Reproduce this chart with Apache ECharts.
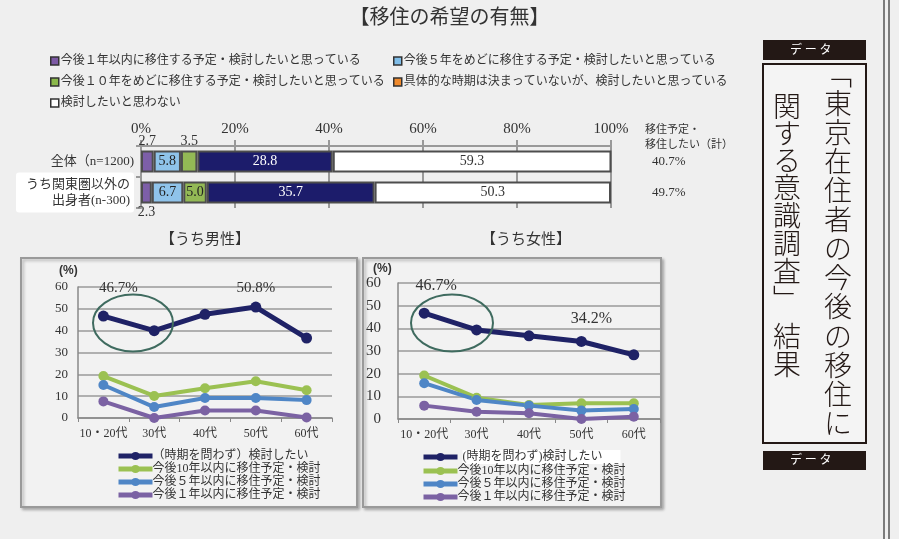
<!DOCTYPE html>
<html><head><meta charset="utf-8">
<script src="https://cdn.jsdelivr.net/npm/echarts@6/dist/echarts.min.js"></script>
<style>html,body{margin:0;padding:0;background:#efefef}#c{width:899px;height:539px}</style>
</head><body><div id="c"></div>
<script>
// ---------- data ----------
const barCats = ['全体（n=1200)', 'うち関東圏以外の\n出身者(n-300)'];
const barNames = [
  '今後１年以内に移住する予定・検討したいと思っている',
  '今後５年をめどに移住する予定・検討したいと思っている',
  '今後１０年をめどに移住する予定・検討したいと思っている',
  '具体的な時期は決まっていないが、検討したいと思っている',
  '検討したいと思わない'
];
const within1y = [2.7, 2.3];
const within5y = [5.8, 6.7];
const within10y = [3.5, 5.0];
const undecided = [28.8, 35.7];
const notConsider = [59.3, 50.3];
const totals = ['40.7%', '49.7%'];
const pctTicks = [0, 20, 40, 60, 80, 100];

const ages = ['10・20代', '30代', '40代', '50代', '60代'];
const lineNamesM = ['（時期を問わず）検討したい', '今後10年以内に移住予定・検討', '今後５年以内に移住予定・検討', '今後１年以内に移住予定・検討'];
const lineNamesF = ['(時期を問わず)検討したい', '今後10年以内に移住予定・検討', '今後５年以内に移住予定・検討', '今後１年以内に移住予定・検討'];
const maleAny = [46.7, 40.0, 47.5, 50.8, 36.6];
const male10 = [19.2, 10.1, 13.6, 16.8, 12.7];
const male5 = [15.1, 5.0, 9.2, 9.2, 8.2];
const male1 = [7.6, 0.0, 3.4, 3.4, 0.2];
const femaleAny = [46.7, 39.3, 36.7, 34.2, 28.3];
const female10 = [19.2, 9.4, 6.2, 6.9, 6.9];
const female5 = [15.8, 8.4, 5.9, 3.7, 4.4];
const female1 = [5.9, 3.2, 2.5, 0.0, 1.0];

// ---------- styles ----------
const FONT = "'Liberation Serif','Noto Sans CJK JP',serif";
const barColors = ['#7d5fa8', '#8fc3ea', '#93b955', '#1c1c6b', '#ffffff'];
const legendColors = ['#7d5aa5', '#7fbde8', '#8ab84a', '#f08a2c', '#ffffff'];
const lineColors = ['#1f2266', '#9bc152', '#4f86c6', '#7b62a3'];

const chart = echarts.init(document.getElementById('c'), null, {renderer: 'canvas'});

const barData = [within1y, within5y, within10y, undecided, notConsider];
const labelColor = ['#333', '#222', '#222', '#fff', '#333'];
function barSeries(i) {
  return {
    type: 'bar', name: barNames[i], stack: 'all', xAxisIndex: 0, yAxisIndex: 0,
    barWidth: 22,
    itemStyle: {color: barColors[i], borderColor: '#4d4d4d', borderWidth: 2},
    label: {show: true, position: 'inside', color: labelColor[i], fontFamily: FONT, fontSize: 14,
      formatter: p => Number(p.value).toFixed(1)},
    data: barData[i].map((v, k) => {
      const d = {value: v};
      if (i === 0) d.label = {position: k === 0 ? 'top' : 'bottom', distance: 2, color: '#333'};
      if (i === 2 && k === 0) d.label = {position: 'top', distance: 2, color: '#333'};
      return d;
    })
  };
}

const lineData = [[maleAny, male10, male5, male1], [femaleAny, female10, female5, female1]];
function lineSeries(g, i) {
  const names = g === 0 ? lineNamesM : lineNamesF;
  const data = lineData[g][i].map(v => ({value: v}));
  if (i === 0) {
    if (g === 0) {
      data[0].label = {show: true, position: 'top', distance: 15, offset: [15, 0], formatter: '{c}%'};
      data[3].label = {show: true, position: 'top', distance: 6, formatter: '{c}%'};
    } else {
      data[0].label = {show: true, position: 'top', distance: 14, offset: [12, 0], fontSize: 16, formatter: '{c}%'};
      data[3].label = {show: true, position: 'top', distance: 9, offset: [10, 0], fontSize: 16, formatter: '{c}%'};
    }
  }
  return {
    type: 'line', name: names[i], xAxisIndex: g + 1, yAxisIndex: g + 2,
    symbol: 'circle', symbolSize: i === 0 ? 11 : 10,
    lineStyle: {color: lineColors[i], width: i === 0 ? 5 : 4},
    itemStyle: {color: lineColors[i]},
    label: {color: '#333', fontFamily: FONT, fontSize: 15},
    emphasis: {disabled: true},
    data: data
  };
}

// vertical title characters
const colR = '﹁東京在住者の今後の移住に'.split('');
const colL = [['関',107],['す',134],['る',161],['意',188],['識',216],['調',244],['査',272],['﹂',300],['結',337],['果',365]];
const vText = [];
colR.forEach((ch, k) => vText.push({type: 'text', left: 824, top: 60 + k * 29.1,
  style: {text: ch, font: "300 28px 'Noto Sans CJK JP'", fill: '#231815'}, z: 10}));
colL.forEach(([ch, y]) => vText.push({type: 'text', left: 773, top: y - 15,
  style: {text: ch, font: "300 28px 'Noto Sans CJK JP'", fill: '#231815'}, z: 10}));

const option = {
  backgroundColor: '#efefef',
  animation: false,
  textStyle: {fontFamily: FONT},
  legend: [
    {orient: 'vertical', left: 45, top: 50, itemWidth: 8, itemHeight: 8, itemGap: 9,
     selectedMode: false, icon: 'rect',
     textStyle: {fontSize: 12, color: '#333', fontFamily: FONT, padding: [0, 0, 0, -3]},
     data: [0, 2, 4].map(i => ({name: barNames[i], itemStyle: {color: legendColors[i], borderColor: '#333', borderWidth: 1.5}}))},
    {orient: 'vertical', left: 388, top: 50, itemWidth: 8, itemHeight: 8, itemGap: 9,
     selectedMode: false, icon: 'rect',
     textStyle: {fontSize: 12, color: '#333', fontFamily: FONT, padding: [0, 0, 0, -3]},
     data: [1, 3].map(i => ({name: barNames[i], itemStyle: {color: legendColors[i], borderColor: '#333', borderWidth: 1.5}}))},
    {orient: 'vertical', left: 111, top: 445, itemWidth: 34, itemHeight: 10, itemGap: 1,
     selectedMode: false, lineStyle: {width: 5},
     textStyle: {fontSize: 12, color: '#333', fontFamily: FONT, padding: [0, 0, 0, -5]},
     data: lineNamesM},
    {orient: 'vertical', left: 416, top: 445, itemWidth: 34, itemHeight: 10, itemGap: 1,
     selectedMode: false, lineStyle: {width: 5},
     textStyle: {fontSize: 12, color: '#333', fontFamily: FONT, padding: [0, 0, 0, -5]},
     data: lineNamesF.map((n, i) => i === 0 ? {name: n, textStyle: {backgroundColor: '#fff', padding: [1, 18, 1, 0]}} : n)}
  ],
  grid: [
    {left: 141, top: 146, width: 470, height: 62},
    {left: 78, top: 287, width: 254, height: 131},
    {left: 398, top: 283, width: 262, height: 136}
  ],
  xAxis: [
    {type: 'value', gridIndex: 0, position: 'top', min: 0, max: 100, interval: 20,
     axisLine: {show: true, lineStyle: {color: '#999', width: 2}},
     axisTick: {show: true, length: 6, lineStyle: {color: '#999', width: 2}},
     splitLine: {show: true, lineStyle: {color: '#999', width: 2}},
     axisLabel: {color: '#333', fontSize: 15, fontFamily: FONT, margin: 9, formatter: v => pctTicks.includes(v) ? v + '%' : ''}},
    {type: 'category', gridIndex: 1, data: ages, boundaryGap: true,
     axisLine: {lineStyle: {color: '#888', width: 1.5}},
     axisTick: {show: true, length: 4, lineStyle: {color: '#888'}},
     axisLabel: {color: '#333', fontSize: 12, fontFamily: FONT, margin: 10, interval: 0}},
    {type: 'category', gridIndex: 2, data: ages, boundaryGap: true,
     axisLine: {lineStyle: {color: '#888', width: 1.5}},
     axisTick: {show: true, length: 4, lineStyle: {color: '#888'}},
     axisLabel: {color: '#333', fontSize: 12, fontFamily: FONT, margin: 10, interval: 0}}
  ],
  yAxis: [
    {type: 'category', gridIndex: 0, inverse: true,
     data: barCats.map((c, k) => k === 1 ? {value: c, textStyle: {backgroundColor: '#fff', padding: [4, 4, 4, 10], lineHeight: 16, borderRadius: 3}} : c),
     axisLine: {show: true, lineStyle: {color: '#999', width: 2}},
     axisTick: {show: true, length: 5, lineStyle: {color: '#999', width: 2}},
     axisLabel: {color: '#333', fontSize: 13, fontFamily: FONT, margin: 7}},
    {type: 'category', gridIndex: 0, inverse: true, position: 'right', data: totals,
     axisLine: {show: false}, axisTick: {show: false},
     axisLabel: {color: '#333', fontSize: 13, fontFamily: FONT, margin: 41, align: 'left'}},
    {type: 'value', gridIndex: 1, min: 0, max: 60, interval: 10,
     axisLine: {show: true, lineStyle: {color: '#888', width: 1.5}},
     splitLine: {lineStyle: {color: '#9a9a9a', width: 1.5}},
     axisLabel: {color: '#333', fontSize: 13, fontFamily: FONT, margin: 10}},
    {type: 'value', gridIndex: 2, min: 0, max: 60, interval: 10,
     axisLine: {show: true, lineStyle: {color: '#888', width: 1.5}},
     splitLine: {lineStyle: {color: '#9a9a9a', width: 1.5}},
     axisLabel: {color: '#333', fontSize: 15, fontFamily: FONT, margin: 17}}
  ],
  series: [0, 1, 2, 3, 4].map(barSeries)
    .concat([0, 1, 2, 3].map(i => lineSeries(0, i)))
    .concat([0, 1, 2, 3].map(i => lineSeries(1, i))),
  graphic: [
    {type: 'rect', shape: {x: 21, y: 258, width: 336, height: 249}, z: -10,
     style: {fill: '#f2f2f2', stroke: '#9a9a9a', lineWidth: 2, shadowBlur: 3, shadowOffsetX: 2, shadowOffsetY: 2, shadowColor: 'rgba(0,0,0,0.25)'}},
    {type: 'rect', shape: {x: 363, y: 258, width: 298, height: 249}, z: -10,
     style: {fill: '#f2f2f2', stroke: '#9a9a9a', lineWidth: 2, shadowBlur: 3, shadowOffsetX: 2, shadowOffsetY: 2, shadowColor: 'rgba(0,0,0,0.25)'}},
    {type: 'text', left: 'center', top: 6, z: 10, style: {text: '【移住の希望の有無】', font: "20px 'Noto Sans CJK JP'", fill: '#333'}},
    {type: 'text', left: 160, top: 231, z: 10, style: {text: '【うち男性】', font: "15px 'Noto Sans CJK JP'", fill: '#333'}},
    {type: 'text', left: 481, top: 231, z: 10, style: {text: '【うち女性】', font: "15px 'Noto Sans CJK JP'", fill: '#333'}},
    {type: 'text', left: 59, top: 265, z: 10, style: {text: '(%)', font: "bold 12px 'Liberation Sans'", fill: '#333'}},
    {type: 'text', left: 373, top: 263, z: 10, style: {text: '(%)', font: "bold 12px 'Liberation Sans'", fill: '#333'}},
    {type: 'text', left: 645, top: 121, z: 10, style: {text: '移住予定・\n移住したい（計）', font: "11px 'Noto Sans CJK JP'", lineHeight: 15, fill: '#333'}},
    {type: 'ellipse', shape: {cx: 133, cy: 323, rx: 40, ry: 28.5}, z: 100, style: {fill: 'none', stroke: '#3f6b5f', lineWidth: 2}},
    {type: 'ellipse', shape: {cx: 452, cy: 323, rx: 41, ry: 28.5}, z: 100, style: {fill: 'none', stroke: '#3f6b5f', lineWidth: 2}},
    // right side title panel
    {type: 'rect', shape: {x: 763, y: 40, width: 103, height: 20}, z: 5, style: {fill: '#231815'}},
    {type: 'text', left: 790, top: 43, z: 10, style: {text: 'デ ー タ', font: "12px 'Noto Sans CJK JP'", fill: '#fff'}},
    {type: 'rect', shape: {x: 763, y: 64, width: 103, height: 379}, z: 5, style: {fill: '#f4f4f4', stroke: '#231815', lineWidth: 2}},
    {type: 'rect', shape: {x: 763, y: 451, width: 103, height: 19}, z: 5, style: {fill: '#231815'}},
    {type: 'text', left: 790, top: 453, z: 10, style: {text: 'デ ー タ', font: "12px 'Noto Sans CJK JP'", fill: '#fff'}},
    {type: 'line', shape: {x1: 884, y1: 0, x2: 884, y2: 539}, z: 5, style: {stroke: '#555', lineWidth: 1.5}},
    {type: 'line', shape: {x1: 889, y1: 0, x2: 889, y2: 539}, z: 5, style: {stroke: '#555', lineWidth: 1.5}}
  ].concat(vText)
};
chart.setOption(option);
</script>
</body></html>
